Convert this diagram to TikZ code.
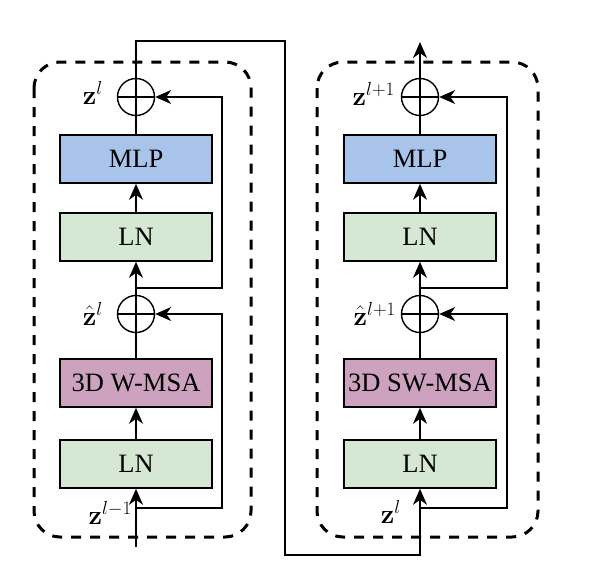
\RequirePackage{fix-cm}
\documentclass[tikz,border=0pt]{standalone}
\usepackage[no-math]{fontspec}
\setmainfont{Liberation Serif}
\usetikzlibrary{arrows.meta}
\definecolor{mlpblue}{HTML}{A9C4EB}
\definecolor{lngreen}{HTML}{D5E8D4}
\definecolor{msapink}{HTML}{CDA2BE}
\begin{document}
\begin{tikzpicture}[x=1pt,y=-1pt,
  block/.style={draw, line width=1.6pt, minimum width=152pt, minimum height=48pt,
    inner sep=0pt, font=\fontsize{26.5}{30}\selectfont},
  adder/.style={circle, draw, line width=1.4pt, minimum size=37pt, inner sep=0pt,
    path picture={\draw[line width=1.4pt]
      (path picture bounding box.north) -- (path picture bounding box.south)
      (path picture bounding box.west) -- (path picture bounding box.east);}},
  wire/.style={line width=1.4pt},
  flow/.style={wire, -{Stealth[length=16pt,width=14pt,inset=5pt]}},
  frame/.style={line width=3pt, dash pattern=on 10pt off 9pt, rounded corners=26pt},
  lbl/.style={anchor=base east, inner sep=0pt, font=\fontsize{27}{32}\selectfont},
]
\path[use as bounding box] (0,0) rectangle (597,582);

% dashed frames of the two blocks
\draw[frame] (34,62) rectangle (251,537);
\draw[frame] (317,62) rectangle (538,537);

% ---- first block (W-MSA) ----
\node[adder] (addL1) at (136,97) {};
\node[block, fill=mlpblue] (mlpL) at (136,159) {MLP};
\node[block, fill=lngreen] (lnL2) at (136,237) {LN};
\node[adder] (addL0) at (136,314) {};
\node[block, fill=msapink] (msaL) at (136,383) {3D W-MSA};
\node[block, fill=lngreen] (lnL1) at (136,464) {LN};
\coordinate (jL2) at (136,288);
\coordinate (jL1) at (136,508);
\coordinate (inL) at (136,547);
\coordinate (sL2) at (222,288);
\coordinate (sL1) at (222,508);

% ---- second block (SW-MSA) ----
\node[adder] (addR1) at (420,97) {};
\node[block, fill=mlpblue] (mlpR) at (420,159) {MLP};
\node[block, fill=lngreen] (lnR2) at (420,237) {LN};
\node[adder] (addR0) at (420,314) {};
\node[block, fill=msapink] (msaR) at (420,383) {3D SW-MSA};
\node[block, fill=lngreen] (lnR1) at (420,464) {LN};
\coordinate (jR2) at (420,288);
\coordinate (jR1) at (420,508);
\coordinate (outR) at (420,42);
\coordinate (sR2) at (507,288);
\coordinate (sR1) at (507,508);

% link between the blocks
\coordinate (lkA) at (136,41);
\coordinate (lkB) at (285,41);
\coordinate (lkC) at (285,555);

% labels
\node[lbl] (zl) at (103,104) {$\mathbf{z}^{l}$};
\node[lbl] (zhl) at (103,325) {$\hat{\mathbf{z}}^{l}$};
\node[lbl] (zlm) at (132,524) {$\mathbf{z}^{l-1}$};
\node[lbl] (zlp) at (395,105) {$\mathbf{z}^{l+1}$};
\node[lbl] (zhlp) at (396,325) {$\hat{\mathbf{z}}^{l+1}$};
\node[lbl] (zlr) at (401,523) {$\mathbf{z}^{l}$};

% first block wiring
\draw[flow] (inL) -- (lnL1.south);
\draw[flow] (lnL1.north) -- (msaL.south);
\draw[wire] (msaL.north) -- (addL0.south);
\draw[flow] (addL0.north) -- (lnL2.south);
\draw[flow] (lnL2.north) -- (mlpL.south);
\draw[wire] (mlpL.north) -- (addL1.south);
\draw[flow] (jL1) -- (sL1) |- (addL0.east);
\draw[flow] (jL2) -- (sL2) |- (addL1.east);

% first block output into second block
\draw[flow] (addL1.north) -- (lkA) -- (lkB) -- (lkC) -| (lnR1.south);

% second block wiring
\draw[flow] (lnR1.north) -- (msaR.south);
\draw[wire] (msaR.north) -- (addR0.south);
\draw[flow] (addR0.north) -- (lnR2.south);
\draw[flow] (lnR2.north) -- (mlpR.south);
\draw[wire] (mlpR.north) -- (addR1.south);
\draw[flow] (jR1) -- (sR1) |- (addR0.east);
\draw[flow] (jR2) -- (sR2) |- (addR1.east);
\draw[flow] (addR1.north) -- (outR);
\end{tikzpicture}
\end{document}
